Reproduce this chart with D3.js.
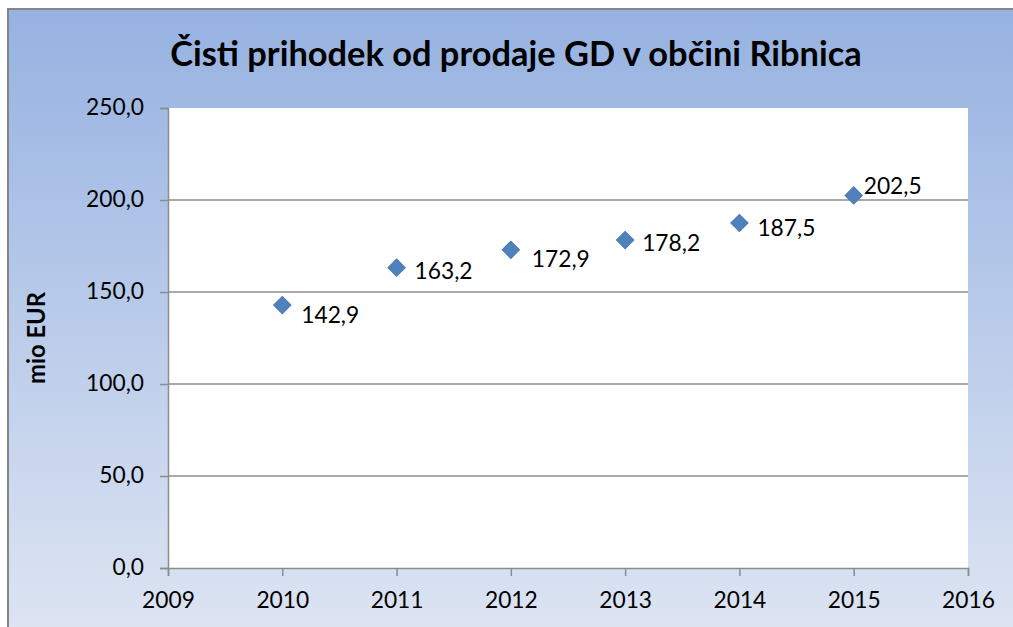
<!DOCTYPE html>
<html><head><meta charset="utf-8">
<script src="https://cdn.jsdelivr.net/npm/d3@7"></script>
<style>html,body{margin:0;padding:0;background:#fff;}svg{display:block;}</style>
</head><body>
<svg id="c" width="1013" height="627"></svg>
<script>
const years = [2010, 2011, 2012, 2013, 2014, 2015];
const values = [142.9, 163.2, 172.9, 178.2, 187.5, 202.5];
const labels = ["142,9", "163,2", "172,9", "178,2", "187,5", "202,5"];
const xTicks = [2009, 2010, 2011, 2012, 2013, 2014, 2015, 2016];
const yTicks = [0, 50, 100, 150, 200, 250];
const labelDy = [10, 3, 9, 3, 5, -9];
const labelDx = [19, 18, 21, 17, 18, 10];
const title = "Čisti prihodek od prodaje GD v občini Ribnica";
const yTitle = "mio EUR";

const svg = d3.select("#c");
const font = "Lato, 'Open Sans', sans-serif";

function fitSize(str, target, weight) {
  const t = svg.append("text").attr("font-family",font).attr("font-weight",weight||"normal")
    .attr("font-size",20).text(str);
  const w = t.node().getComputedTextLength();
  t.remove();
  return 20*target/w;
}
const fsTick = fitSize("250,0", 58);
const fsTitleY = fitSize(yTitle, 92, "bold");

const defs = svg.append("defs");
const g = defs.append("linearGradient").attr("id","bg").attr("x1",0).attr("y1",0).attr("x2",0).attr("y2",1);
g.append("stop").attr("offset","0%").attr("stop-color","#96B2E1");
g.append("stop").attr("offset","100%").attr("stop-color","#DFE6F3");

svg.append("rect").attr("x",8).attr("y",9).attr("width",1020).attr("height",640)
  .attr("fill","url(#bg)").attr("stroke","#858585").attr("stroke-width",2);

const L = 168, R = 968, T = 108, B = 568;
const x = d3.scaleLinear().domain([2009, 2016]).range([L, R]);
const y = d3.scaleLinear().domain([0, 250]).range([B, T]);

svg.append("rect").attr("x",L).attr("y",T).attr("width",R-L).attr("height",B-T).attr("fill","#fff");

svg.append("g").selectAll("line").data(yTicks.filter(d=>d>0 && d<250)).join("line")
  .attr("x1",L).attr("x2",R).attr("y1",d=>y(d)).attr("y2",d=>y(d))
  .attr("stroke","#8C8C8C").attr("stroke-width",1.5);

const fmt = d => d3.format(".1f")(d).replace(".", ",");
const yAxis = svg.append("g").attr("transform",`translate(${L},0)`)
  .call(d3.axisLeft(y).tickValues(yTicks).tickFormat(fmt).tickSize(8).tickPadding(16));
const xAxis = svg.append("g").attr("transform",`translate(0,${B})`)
  .call(d3.axisBottom(x).tickValues(xTicks).tickFormat(d3.format("d")).tickSize(8).tickPadding(16));
[yAxis, xAxis].forEach(a => {
  a.select(".domain").attr("stroke","#8C8C8C").attr("stroke-width",1.5);
  a.selectAll(".tick line").attr("stroke","#8C8C8C").attr("stroke-width",1.5);
  a.selectAll("text").attr("font-family",font).attr("font-size",fsTick).attr("fill","#000");
});
yAxis.selectAll("text").attr("dy","0.3em");

const sym = d3.symbol().type(d3.symbolSquare).size(150);
svg.append("g").selectAll("path").data(values).join("path")
  .attr("d", sym)
  .attr("transform",(d,i)=>`translate(${x(years[i])},${y(d)}) rotate(45)`)
  .attr("fill","#4F81BD").attr("stroke","#4A7AB5").attr("stroke-width",1);

svg.append("g").selectAll("text").data(values).join("text")
  .attr("x",(d,i)=>x(years[i])+labelDx[i])
  .attr("y",(d,i)=>y(d)+labelDy[i])
  .attr("dy","0.35em")
  .attr("font-family",font).attr("font-size",fsTick).attr("fill","#000")
  .text((d,i)=>labels[i]);

const t = svg.append("text").attr("x",(170+862)/2).attr("y",66).attr("text-anchor","middle")
  .attr("font-family",font).attr("font-weight","bold").attr("font-size",30).attr("fill","#000")
  .text(title);
const w = t.node().getComputedTextLength();
t.attr("font-size", 30*692/w);

svg.append("text").attr("transform",`translate(45,${(T+B)/2}) rotate(-90)`)
  .attr("text-anchor","middle").attr("font-family",font).attr("font-weight","bold")
  .attr("font-size",fsTitleY).attr("fill","#000").text(yTitle);
</script>
</body></html>
